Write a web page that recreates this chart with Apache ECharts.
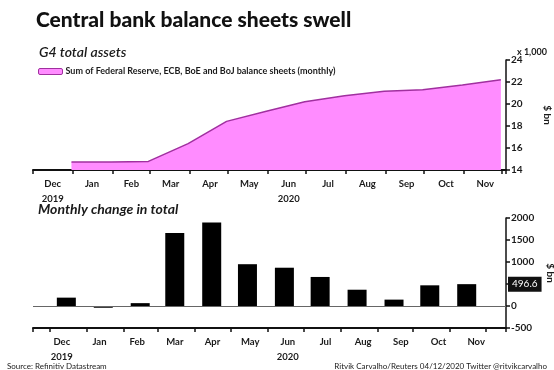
<!DOCTYPE html>
<html><head><meta charset="utf-8">
<script src="https://cdn.jsdelivr.net/npm/echarts@6/dist/echarts.min.js"></script>
<style>html,body{margin:0;padding:0;background:#fff}#c{width:554px;height:370px}</style>
</head><body><div id="c"></div>
<script>
const months = ['Dec','Jan','Feb','Mar','Apr','May','Jun','Jul','Aug','Sep','Oct','Nov'];
const yearLabels = {Dec: '2019', Jun: '2020'};
const totalDates = ['2019-12-31','2020-01-31','2020-02-29','2020-03-31','2020-04-30','2020-05-31','2020-06-30','2020-07-31','2020-08-31','2020-09-30','2020-10-31','2020-11-30'];
const totalAssets = [14.72, 14.72, 14.78, 16.4, 18.42, 19.35, 20.2, 20.75, 21.15, 21.3, 21.72, 22.2];
const changeDates = ['2019-12-15','2020-01-15','2020-02-15','2020-03-15','2020-04-15','2020-05-15','2020-06-15','2020-07-15','2020-08-15','2020-09-15','2020-10-15','2020-11-15'];
const monthlyChange = [190, -40, 65, 1660, 1900, 950, 870, 660, 370, 145, 470, 496.6];
const lastChangeLabel = '496.6';
const topTicks = {min: 14, max: 24, step: 2};
const bottomTicks = {min: -500, max: 2000, step: 500};

const TXT = '#1a1a1a';
const FONT = 'Lato';
const chart = echarts.init(document.getElementById('c'), null, {renderer: 'canvas'});

const monthFormatter = v => yearLabels[v] ? v + '\n' + yearLabels[v] : v;
const timeAxisCommon = {
  type: 'time',
  splitNumber: 12,
  minInterval: 28 * 864e5,
  maxInterval: 31 * 864e5,
  axisLine: {show: true, onZero: false, lineStyle: {color: '#111', width: 2}},
  axisTick: {show: true, length: 4, lineStyle: {color: '#111', width: 1.5}},
  axisLabel: {show: false},
  splitLine: {show: false}
};
const labelAxisCommon = {
  type: 'category',
  data: months,
  boundaryGap: true,
  axisLine: {show: false, onZero: false},
  axisTick: {show: false},
  splitLine: {show: false},
  axisLabel: {color: TXT, fontSize: 9.5, fontWeight: 'bold', fontFamily: FONT, margin: 6, lineHeight: 15, formatter: monthFormatter}
};
const valueAxisCommon = {
  type: 'value',
  position: 'right',
  axisLine: {show: true, lineStyle: {color: '#111', width: 1.5}},
  axisTick: {show: true, length: 4, lineStyle: {color: '#111', width: 1.5}},
  splitLine: {show: false},
  name: '$ bn',
  nameLocation: 'middle',
  nameRotate: -90,
  nameGap: 36,
  nameTextStyle: {color: TXT, fontSize: 10, fontWeight: 'bold', fontFamily: FONT},
  axisLabel: {color: TXT, fontSize: 10, fontWeight: 'bold', fontFamily: FONT, margin: 5}
};
const gridCommon = {outerBoundsMode: 'none', containLabel: false};

chart.setOption({
  animation: false,
  backgroundColor: '#fff',
  title: [
    {text: 'Central bank balance sheets swell', left: 31, top: 5, textStyle: {fontFamily: FONT, fontWeight: 900, fontSize: 21, color: '#111'}},
    {text: 'G4 total assets', left: 34, top: 40, textStyle: {fontFamily: FONT, fontStyle: 'italic', fontWeight: 600, fontSize: 14, color: TXT}},
    {text: 'x 1,000', left: 512, top: 43, textStyle: {fontFamily: FONT, fontWeight: 'bold', fontSize: 9, color: TXT}},
    {text: 'Monthly change in total', left: 33, top: 197, textStyle: {fontFamily: FONT, fontStyle: 'italic', fontWeight: 'bold', fontSize: 14, color: TXT}},
    {text: 'Source: Refinitiv Datastream', left: 2, top: 357, textStyle: {fontFamily: FONT, fontWeight: 'normal', fontSize: 8, color: TXT}},
    {text: 'Ritvik Carvalho/Reuters 04/12/2020 Twitter @ritvikcarvalho', right: 2, top: 357, textStyle: {fontFamily: FONT, fontWeight: 'normal', fontSize: 8, color: TXT}}
  ],
  legend: {
    left: 33, top: 62, itemGap: 4,
    itemWidth: 24, itemHeight: 6, icon: 'roundRect',
    textStyle: {color: TXT, fontSize: 9, fontWeight: 'bold', fontFamily: FONT, padding: [0, 0, 0, -2]},
    data: [{name: 'Sum of Federal Reserve, ECB, BoE and BoJ balance sheets (monthly)', itemStyle: {color: '#ff8cff', borderColor: '#a0309f', borderWidth: 1}}]
  },
  grid: [
    Object.assign({left: 33, right: 48, top: 60, bottom: 200}, gridCommon),
    Object.assign({left: 33, right: 49, top: 60, bottom: 200}, gridCommon),
    Object.assign({left: 33, right: 48, top: 218, bottom: 42}, gridCommon),
    Object.assign({left: 43, right: 59, top: 218, bottom: 42}, gridCommon)
  ],
  xAxis: [
    Object.assign({}, timeAxisCommon, {gridIndex: 0, min: '2019-12-01', max: '2020-12-04'}),
    Object.assign({}, labelAxisCommon, {gridIndex: 1}),
    Object.assign({}, timeAxisCommon, {gridIndex: 2, min: '2019-11-25', max: '2020-12-10'}),
    Object.assign({}, labelAxisCommon, {gridIndex: 3})
  ],
  yAxis: [
    Object.assign({}, valueAxisCommon, {gridIndex: 0, min: topTicks.min, max: topTicks.max, interval: topTicks.step}),
    {gridIndex: 1, type: 'value', show: false},
    Object.assign({}, valueAxisCommon, {gridIndex: 2, min: bottomTicks.min, max: bottomTicks.max, interval: bottomTicks.step,
      axisLabel: Object.assign({}, valueAxisCommon.axisLabel, {formatter: v => (v === 500 ? '' : String(v))})}),
    {gridIndex: 3, type: 'value', show: false}
  ],
  series: [
    {
      name: 'Sum of Federal Reserve, ECB, BoE and BoJ balance sheets (monthly)',
      type: 'line', xAxisIndex: 0, yAxisIndex: 0,
      data: totalDates.map((d, i) => [d, totalAssets[i]]),
      symbol: 'none',
      lineStyle: {color: '#a0309f', width: 1.5},
      itemStyle: {color: '#ff8cff'},
      areaStyle: {color: '#ff8cff', opacity: 1}
    },
    {
      name: 'Monthly change',
      type: 'bar', xAxisIndex: 2, yAxisIndex: 2,
      data: changeDates.map((d, i) => [d, monthlyChange[i]]),
      barWidth: 19,
      itemStyle: {color: '#000'},
      markLine: {
        silent: true, symbol: 'none', animation: false,
        data: [
          {yAxis: 0, lineStyle: {color: '#666', width: 1, type: 'solid'}, label: {show: false}},
          {yAxis: 496.6, lineStyle: {color: 'rgba(0,0,0,0)', width: 1}, label: {show: true, position: 'end', distance: 2, formatter: lastChangeLabel, backgroundColor: '#111', color: '#fff', padding: [3, 4, 2, 4], fontSize: 10, fontFamily: FONT}}
        ]
      }
    }
  ]
});
</script>
</body></html>
